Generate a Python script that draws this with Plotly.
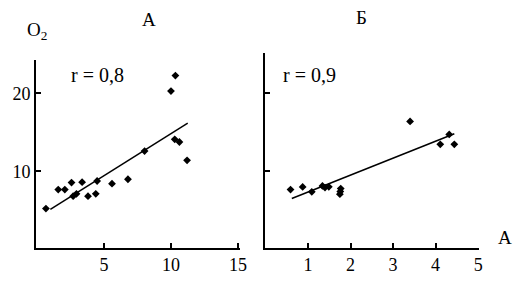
import plotly.graph_objects as go

# Panel A data
a_x = [0.67, 1.59, 2.08, 2.58, 3.37, 2.70, 2.95, 3.81, 4.39, 4.49, 5.6, 6.79, 8.03, 10.0, 10.33, 10.28, 10.63, 11.2]
a_y = [5.2, 7.65, 7.65, 8.55, 8.6, 6.8, 7.1, 6.8, 7.1, 8.75, 8.4, 8.97, 12.6, 20.3, 22.3, 14.1, 13.76, 11.4]
a_fit_x = [1.0, 11.25]
a_fit_y = [5.1, 16.2]

# Panel B data
b_x = [0.59, 0.875, 1.09, 1.34, 1.40, 1.49, 1.77, 1.76, 1.75, 3.40, 4.11, 4.32, 4.44]
b_y = [7.65, 7.99, 7.35, 8.12, 7.9, 8.0, 7.78, 7.4, 7.05, 16.4, 13.46, 14.74, 13.46]
b_fit_x = [0.62, 4.44]
b_fit_y = [6.5, 14.83]

a_xticks = [5, 10, 15]
b_xticks = [1, 2, 3, 4, 5]
yticks = [10, 20]

FONT = "Liberation Serif, Times New Roman, serif"
W, H = 526, 289

fig = go.Figure()
mk = dict(symbol="diamond", size=6, color="black")
fig.add_trace(go.Scatter(x=a_x, y=a_y, mode="markers", marker=mk, xaxis="x", yaxis="y"))
fig.add_trace(go.Scatter(x=a_fit_x, y=a_fit_y, mode="lines", line=dict(color="black", width=1.5), xaxis="x", yaxis="y"))
fig.add_trace(go.Scatter(x=b_x, y=b_y, mode="markers", marker=mk, xaxis="x2", yaxis="y2"))
fig.add_trace(go.Scatter(x=b_fit_x, y=b_fit_y, mode="lines", line=dict(color="black", width=1.5), xaxis="x2", yaxis="y2"))

ax_common = dict(showline=True, linecolor="black", linewidth=2, showgrid=False, zeroline=False,
                 ticks="inside", ticklen=5, tickwidth=1.5, tickcolor="black", automargin=False,
                 tickfont=dict(family=FONT, size=18, color="black"))

ybot = (H - 247.5) / H
fig.update_layout(
    width=W, height=H, margin=dict(l=0, r=0, t=0, b=0),
    paper_bgcolor="white", plot_bgcolor="white", showlegend=False,
    xaxis=dict(domain=[36 / W, 240 / W], range=[-0.07, 15.15], tickvals=a_xticks, anchor="y", **ax_common),
    yaxis=dict(domain=[ybot, (H - 60) / H], range=[0.2, 24.3], tickvals=yticks, anchor="x", **ax_common),
    xaxis2=dict(domain=[265 / W, 479 / W], range=[-0.01, 5.02], tickvals=b_xticks, anchor="y2", **ax_common),
    yaxis2=dict(domain=[ybot, (H - 53) / H], range=[0.2, 25.2], tickvals=yticks, showticklabels=False, anchor="x2", **ax_common),
)

def ann(text, x, y, size=19):
    fig.add_annotation(text=text, x=x / W, y=1 - y / H, xref="paper", yref="paper",
                       showarrow=False, xanchor="center", yanchor="middle",
                       font=dict(family=FONT, size=size, color="black"))

ann("А", 149, 19)
ann("Б", 361, 18)
ann("O<sub>2</sub>", 37, 31)
ann("r = 0,8", 97, 75, 20)
ann("r = 0,9", 309, 75, 20)
ann("А", 505, 237)

fig.write_html("out.html", config={"displayModeBar": False},
               post_script="document.body.style.margin='0';document.body.style.overflow='hidden';")
